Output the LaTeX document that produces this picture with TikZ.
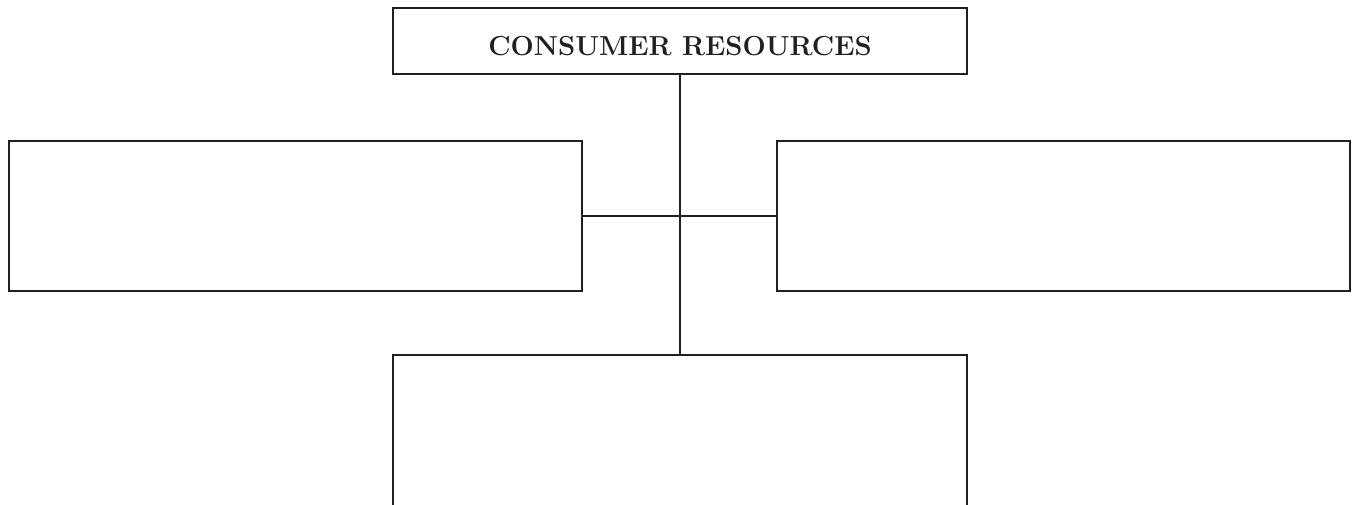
\documentclass[tikz,border=0pt]{standalone}
\usepackage{fontspec}
\definecolor{ink}{HTML}{231F20}
\begin{document}
\begin{tikzpicture}[x=1pt,y=-1pt,
  boxstyle/.style={draw=ink, line width=2.8pt, inner sep=0pt, outer sep=0pt},
  linkstyle/.style={draw=ink, line width=2.8pt},
  titlestyle/.style={text=ink, inner sep=0pt, font=\fontsize{27.5}{32}\selectfont\bfseries}]
\useasboundingbox (0,0) rectangle (1354,505);
\node[boxstyle, minimum width=574pt, minimum height=66pt] (top) at (680,41) {};
\node[titlestyle, yshift=-5pt] (title) at (top.center) {CONSUMER RESOURCES};
\node[boxstyle, minimum width=573pt, minimum height=150pt] (left) at (295.5,216) {};
\node[boxstyle, minimum width=573pt, minimum height=150pt] (right) at (1063.5,216) {};
\node[inner sep=0pt, outer sep=0pt, minimum width=574pt, minimum height=160pt] (bottom) at (680,435) {};
\draw[linkstyle] (bottom.south west) -- (bottom.north west) -- (bottom.north east) -- (bottom.south east);
\draw[linkstyle] (top.south) -- (bottom.north);
\draw[linkstyle] (left.east) -- (right.west);
\end{tikzpicture}
\end{document}
